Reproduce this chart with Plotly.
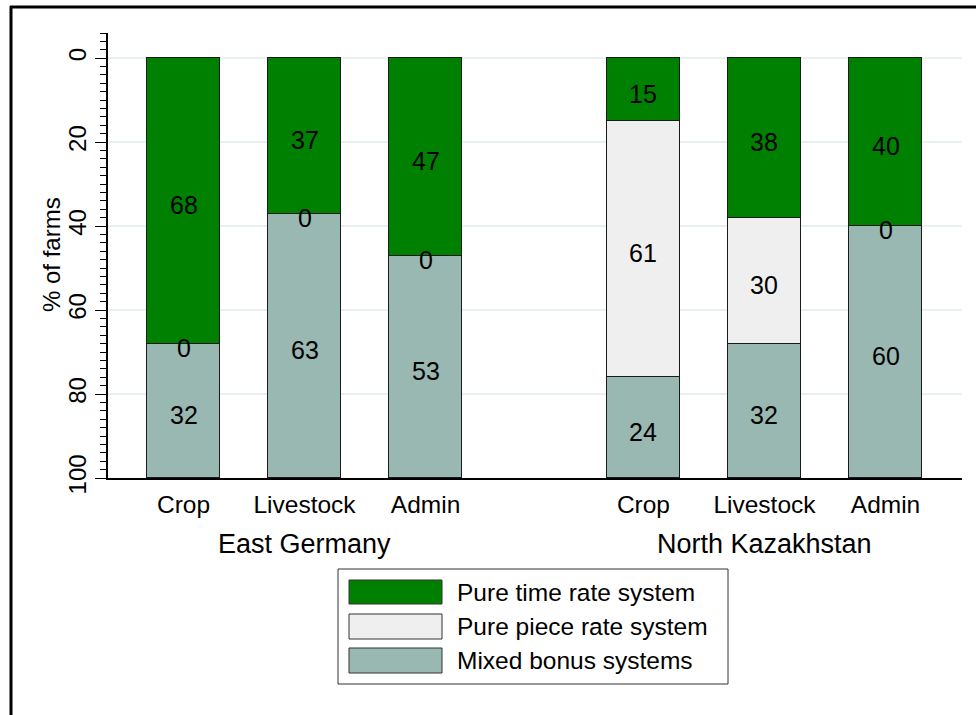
import plotly.graph_objects as go

# ---- data ----
groups = ["East Germany", "North Kazakhstan"]
categories = ["Crop", "Livestock", "Admin"]
series_names = ["Pure time rate system", "Pure piece rate system", "Mixed bonus systems"]
time_rate = [68, 37, 47, 15, 38, 40]
piece_rate = [0, 0, 0, 61, 30, 0]
mixed = [32, 63, 53, 24, 32, 60]
y_ticks = [0, 20, 40, 60, 80, 100]

colors = ["#008000", "#efefef", "#99b8b1"]
series_values = [time_rate, piece_rate, mixed]

# ---- layout helpers ----
W, H = 976, 715
L, R, T, B = 108, 14, 33, 237
PW, PH = W - L - R, H - T - B
group_step = 3.8
bar_w = 0.603

pos = [g * group_step + i for g in range(len(groups)) for i in range(len(categories))]
ticktext = [c for g in groups for c in categories]

def px_x(px):
    return (px - L) / PW

def px_y(py):
    return (H - B - py) / PH

FONT = "Liberation Sans, Arial, sans-serif"
fig = go.Figure()

for name, vals, col in zip(series_names, series_values, colors):
    fig.add_trace(go.Bar(
        x=pos, y=vals, name=name, width=bar_w,
        marker=dict(color=col, line=dict(color="#1a1a1a", width=1)),
        showlegend=False, hoverinfo="skip",
    ))

shapes = []
annotations = []

# segment labels at segment centers
for j, p in enumerate(pos):
    cum = 0
    for vals in series_values:
        v = vals[j]
        annotations.append(dict(
            x=p, xref="x", y=cum + v / 2, yref="y", text=str(v),
            showarrow=False, yshift=-4,
            font=dict(size=25, color="black", family=FONT),
            xanchor="center", yanchor="middle",
        ))
        cum += v

# group labels
for g, gname in enumerate(groups):
    cx = sum(pos[g * 3:(g + 1) * 3]) / 3
    annotations.append(dict(
        x=cx, xref="x", y=px_y(544), yref="paper", text=gname,
        showarrow=False, font=dict(size=27, color="black", family=FONT),
        xanchor="center", yanchor="middle",
    ))

# y-axis title
annotations.append(dict(
    x=px_x(52), xref="paper", y=px_y(255), yref="paper", text="% of farms",
    textangle=-90, showarrow=False, font=dict(size=24, color="black", family=FONT),
    xanchor="center", yanchor="middle",
))

# custom legend
shapes.append(dict(type="rect", xref="paper", yref="paper",
                   x0=px_x(338), x1=px_x(728), y0=px_y(569), y1=px_y(684),
                   line=dict(color="#333333", width=1), fillcolor="white", layer="above"))
rows = [(580, 604), (614, 639), (648, 673)]
for (y0, y1), name, col in zip(rows, series_names, colors):
    shapes.append(dict(type="rect", xref="paper", yref="paper",
                       x0=px_x(349), x1=px_x(442), y0=px_y(y0), y1=px_y(y1),
                       line=dict(color="#333333", width=1), fillcolor=col, layer="above"))
    annotations.append(dict(
        x=px_x(455), xref="paper", y=px_y((y0 + y1) / 2), yref="paper", text=name,
        showarrow=False, font=dict(size=24.5, color="black", family=FONT),
        xanchor="left", yanchor="middle",
    ))

# outer frame (top & left)
shapes.append(dict(type="line", xref="paper", yref="paper",
                   x0=px_x(10), x1=px_x(W + 5), y0=px_y(7), y1=px_y(7),
                   line=dict(color="black", width=3)))
shapes.append(dict(type="line", xref="paper", yref="paper",
                   x0=px_x(11), x1=px_x(11), y0=px_y(6), y1=px_y(H + 5),
                   line=dict(color="black", width=3)))

fig.update_layout(
    width=W, height=H,
    margin=dict(l=L, r=R, t=T, b=B, pad=0),
    barmode="stack",
    paper_bgcolor="white", plot_bgcolor="white",
    font=dict(family=FONT, size=24, color="black"),
    shapes=shapes, annotations=annotations,
    showlegend=False,
    bargap=0,
)
fig.update_xaxes(
    range=[-0.624, pos[-1] + 0.632],
    tickvals=pos, ticktext=ticktext,
    showline=True, linecolor="black", linewidth=1.5,
    ticks="outside", ticklen=4, tickcolor="rgba(0,0,0,0)",
    showgrid=False, zeroline=False,
    tickfont=dict(size=24.5, family=FONT),
)
fig.update_yaxes(
    range=[100, -6],
    tickvals=y_ticks, tickangle=-90,
    showline=True, linecolor="black", linewidth=1.5,
    ticks="outside", ticklen=11, tickcolor="black", tickwidth=1.2,
    minor=dict(dtick=2, tick0=0, ticks="outside", ticklen=6, tickcolor="black", tickwidth=1, showgrid=False),
    showgrid=True, gridcolor="#e8f0f2", gridwidth=1.5,
    zeroline=False,
    tickfont=dict(size=24, family=FONT),
)

fig.write_html("out.html", config={"displayModeBar": False},
               post_script="document.body.style.margin='0';document.body.style.padding='0';")
